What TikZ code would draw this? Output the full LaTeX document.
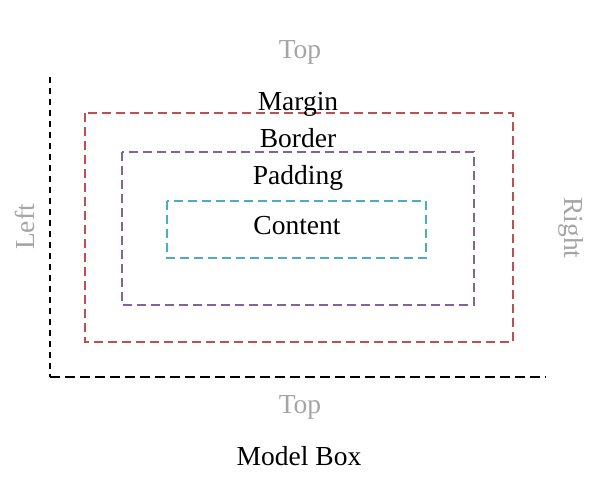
\documentclass[tikz,border=0pt]{standalone}
\usepackage{fontspec}
\setmainfont{Liberation Serif}
\definecolor{mred}{RGB}{192,80,77}
\definecolor{mpurple}{RGB}{128,100,162}
\definecolor{mteal}{RGB}{75,172,198}
\definecolor{mgray}{RGB}{165,165,165}
\begin{document}
\begin{tikzpicture}[x=1pt,y=-1pt,
  boxline/.style={line width=2pt, dash pattern=on 9pt off 5pt},
  lbl/.style={font=\fontsize{27.5}{31}\selectfont, text=black, inner sep=0pt, anchor=base},
  glbl/.style={font=\fontsize{27.5}{31}\selectfont, text=mgray, inner sep=0pt}]
\useasboundingbox (0,0) rectangle (600,484);
\coordinate (ytop) at (50,77);
\coordinate (orig) at (50,377);
\coordinate (xend) at (546,377);
\draw[line width=1.2pt, dash pattern=on 6pt off 5pt] (ytop) -- (orig);
\draw[line width=2pt, dash pattern=on 10pt off 5pt] (orig) -- (xend);
\draw[boxline, mred] (85,113) rectangle (513,342);
\draw[boxline, mpurple] (122,152) rectangle (474,305);
\draw[boxline, mteal] (167,201) rectangle (426,258);
\node[glbl, anchor=base] (top1) at (300,59) {Top};
\node[lbl] (margin) at (298,111) {Margin};
\node[lbl] (border) at (298,148) {Border};
\node[lbl] (padding) at (298,185) {Padding};
\node[lbl] (content) at (297,234) {Content};
\node[glbl, anchor=base] (top2) at (300,413) {Top};
\node[lbl] (title) at (299,465) {Model Box};
\node[glbl, rotate=90] (left) at (25,227) {Left};
\node[glbl, rotate=-90] (right) at (571,228) {Right};
\end{tikzpicture}
\end{document}
